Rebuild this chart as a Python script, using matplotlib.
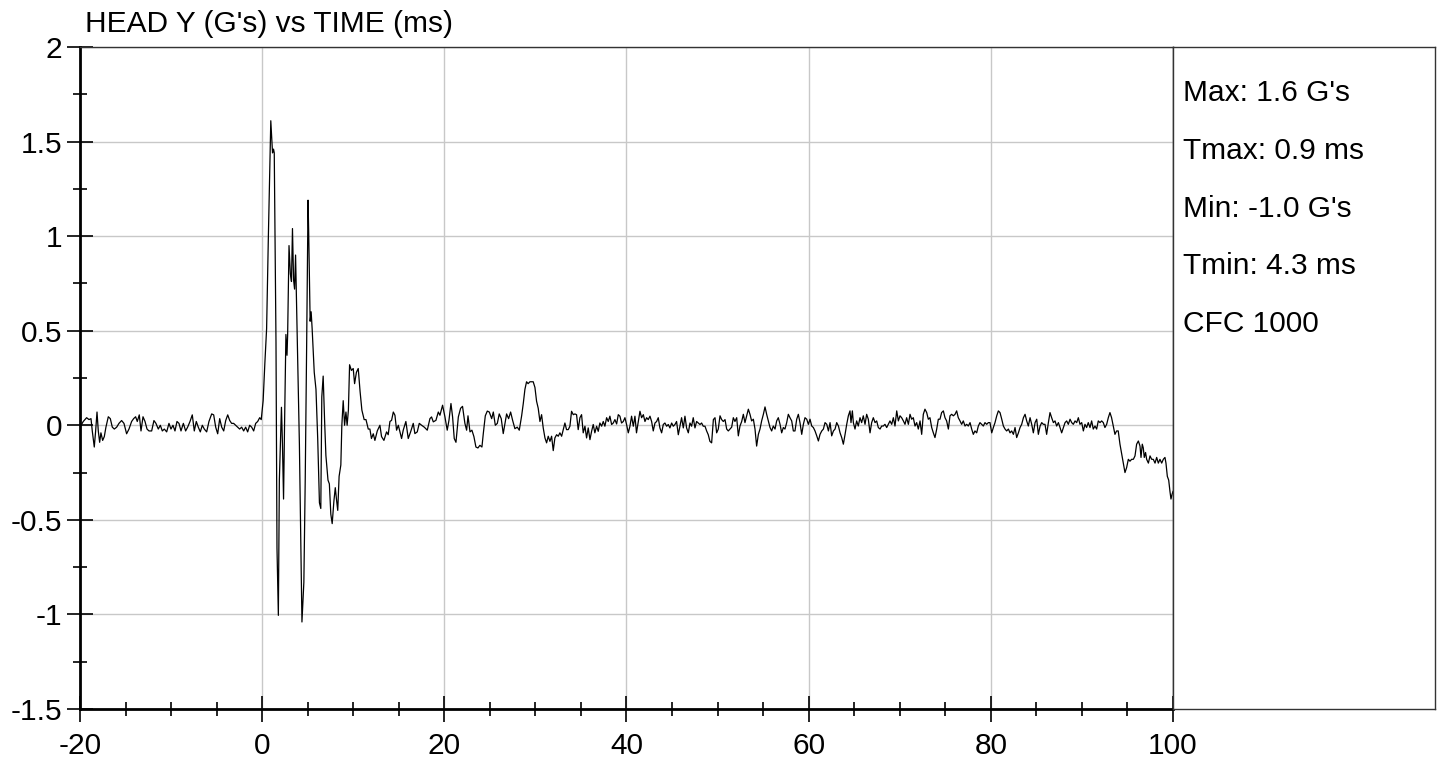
import matplotlib
matplotlib.use("Agg")
import matplotlib.pyplot as plt
from matplotlib.ticker import MultipleLocator

plt.rcParams['font.family'] = ['Liberation Sans', 'DejaVu Sans']

# head Y acceleration (ms, G's)
time_ms = [
    -20.0, -19.64, -19.27, -19.01, -18.79, -18.65, -18.43, -18.28, -18.13, -17.99,
    -17.84, -17.70, -17.51, -17.33, -17.15, -16.89, -16.67, -16.45, -16.23, -15.97,
    -15.72, -15.43, -15.17, -14.88, -14.62, -14.33, -14.11, -13.89, -13.71, -13.49,
    -13.30, -13.08, -12.86, -12.64, -12.42, -12.13, -11.88, -11.66, -11.40, -11.18,
    -10.96, -10.74, -10.48, -10.23, -10.01, -9.79, -9.57, -9.35, -9.13, -8.91,
    -8.65, -8.40, -8.18, -7.92, -7.67, -7.45, -7.23, -7.01, -6.79, -6.57,
    -6.35, -6.09, -5.84, -5.54, -5.32, -5.10, -4.88, -4.66, -4.44, -4.22,
    -4.00, -3.78, -3.56, -3.35, -3.13, -2.91, -2.69, -2.47, -2.25, -2.03,
    -1.81, -1.59, -1.37, -1.15, -0.93, -0.71, -0.49, -0.27, -0.10, 0.11,
    0.30, 0.49, 0.68, 0.95, 1.14, 1.25, 1.33, 1.52, 1.63, 1.78,
    1.89, 2.00, 2.12, 2.23, 2.35, 2.46, 2.61, 2.73, 2.80, 2.95,
    3.10, 3.22, 3.33, 3.45, 3.56, 3.67, 3.79, 3.90, 4.09, 4.28,
    4.37, 4.58, 4.73, 4.89, 5.04, 5.11, 5.27, 5.38, 5.49, 5.72,
    5.91, 6.10, 6.29, 6.44, 6.55, 6.70, 6.86, 7.00, 7.23, 7.38,
    7.54, 7.69, 7.88, 8.03, 8.18, 8.30, 8.45, 8.64, 8.75, 8.90,
    9.05, 9.20, 9.33, 9.47, 9.60, 9.80, 10.00, 10.15, 10.35, 10.55,
    10.75, 10.95, 11.20, 11.40, 11.65, 11.83, 12.00, 12.20, 12.38, 12.64,
    12.93, 13.11, 13.37, 13.66, 13.84, 14.03, 14.21, 14.40, 14.58, 14.76,
    14.95, 15.13, 15.31, 15.49, 15.78, 16.04, 16.30, 16.59, 16.77, 17.03,
    17.25, 17.51, 17.80, 18.13, 18.42, 18.60, 18.79, 19.08, 19.34, 19.52,
    19.81, 20.07, 20.32, 20.51, 20.73, 20.91, 21.09, 21.28, 21.54, 21.79,
    22.00, 22.26, 22.45, 22.60, 22.82, 23.03, 23.25, 23.47, 23.69, 23.91,
    24.13, 24.28, 24.50, 24.72, 24.94, 25.20, 25.38, 25.60, 25.82, 26.03,
    26.25, 26.47, 26.66, 26.84, 27.06, 27.28, 27.50, 27.75, 28.01, 28.23,
    28.49, 28.67, 28.85, 29.03, 29.20, 29.40, 29.58, 29.76, 29.95, 30.13,
    30.31, 30.50, 30.68, 30.86, 31.05, 31.23, 31.41, 31.60, 31.78, 31.96,
    32.14, 32.33, 32.51, 32.69, 32.88, 33.06, 33.24, 33.42, 33.61, 33.79,
    33.97, 34.16, 34.34, 34.52, 34.70, 34.89, 35.07, 35.25, 35.44, 35.62,
    35.80, 35.99, 36.17, 36.35, 36.53, 36.72, 36.90, 37.08, 37.27, 37.45,
    37.63, 37.82, 38.00, 38.18, 38.37, 38.55, 38.73, 38.92, 39.10, 39.28,
    39.46, 39.65, 39.83, 40.01, 40.20, 40.38, 40.56, 40.75, 40.93, 41.10,
    41.30, 41.48, 41.66, 41.85, 42.03, 42.21, 42.39, 42.58, 42.76, 42.94,
    43.13, 43.31, 43.49, 43.67, 43.86, 44.04, 44.22, 44.41, 44.59, 44.77,
    44.96, 45.14, 45.32, 45.50, 45.69, 45.87, 46.05, 46.24, 46.42, 46.60,
    46.79, 46.97, 47.15, 47.33, 47.52, 47.70, 47.88, 48.07, 48.25, 48.43,
    48.62, 48.80, 48.98, 49.16, 49.35, 49.54, 49.72, 49.90, 50.08, 50.27,
    50.45, 50.63, 50.82, 51.00, 51.18, 51.37, 51.55, 51.73, 51.91, 52.10,
    52.28, 52.46, 52.65, 52.83, 53.01, 53.20, 53.38, 53.56, 53.74, 53.93,
    54.11, 54.29, 54.48, 54.66, 54.84, 55.03, 55.21, 55.39, 55.58, 55.76,
    55.94, 56.12, 56.31, 56.49, 56.67, 56.86, 57.04, 57.22, 57.40, 57.59,
    57.77, 57.95, 58.14, 58.32, 58.50, 58.69, 58.87, 59.05, 59.24, 59.42,
    59.60, 59.79, 59.97, 60.15, 60.34, 60.52, 60.70, 60.89, 61.07, 61.25,
    61.44, 61.62, 61.80, 61.99, 62.17, 62.35, 62.53, 62.72, 62.90, 63.08,
    63.27, 63.45, 63.63, 63.81, 64.00, 64.18, 64.36, 64.54, 64.65, 64.80,
    64.91, 65.09, 65.27, 65.45, 65.64, 65.82, 66.00, 66.19, 66.37, 66.55,
    66.74, 66.92, 67.10, 67.29, 67.47, 67.65, 67.84, 68.02, 68.20, 68.38,
    68.57, 68.75, 68.93, 69.12, 69.30, 69.48, 69.67, 69.85, 70.03, 70.21,
    70.40, 70.58, 70.76, 70.95, 71.13, 71.31, 71.49, 71.68, 71.86, 72.04,
    72.23, 72.41, 72.59, 72.77, 72.96, 73.14, 73.32, 73.51, 73.69, 73.87,
    74.06, 74.24, 74.42, 74.60, 74.79, 74.97, 75.15, 75.34, 75.52, 75.70,
    75.89, 76.07, 76.25, 76.43, 76.62, 76.80, 76.98, 77.17, 77.35, 77.53,
    77.72, 77.90, 78.08, 78.26, 78.45, 78.63, 78.81, 79.00, 79.18, 79.36,
    79.55, 79.73, 79.91, 80.10, 80.28, 80.46, 80.65, 80.83, 81.01, 81.20,
    81.38, 81.56, 81.74, 81.93, 82.11, 82.29, 82.48, 82.66, 82.84, 83.03,
    83.21, 83.39, 83.58, 83.76, 83.94, 84.12, 84.31, 84.49, 84.67, 84.86,
    85.04, 85.22, 85.41, 85.59, 85.77, 85.95, 86.13, 86.32, 86.50, 86.68,
    86.87, 87.05, 87.23, 87.42, 87.60, 87.78, 87.97, 88.15, 88.33, 88.51,
    88.70, 88.88, 89.06, 89.25, 89.43, 89.61, 89.79, 89.98, 90.16, 90.34,
    90.52, 90.70, 90.89, 91.07, 91.25, 91.44, 91.62, 91.80, 91.99, 92.17,
    92.35, 92.53, 92.72, 92.90, 93.08, 93.26, 93.45, 93.63, 93.81, 93.99,
    94.18, 94.37, 94.55, 94.73, 94.91, 95.10, 95.28, 95.46, 95.65, 95.83,
    96.01, 96.20, 96.38, 96.49, 96.63, 96.74, 96.85, 96.99, 97.11, 97.30,
    97.48, 97.66, 97.84, 98.03, 98.21, 98.39, 98.57, 98.76, 98.94, 99.12,
    99.23, 99.38, 99.53, 99.67, 99.78, 99.90, 100.0,
]
head_y_g = [
    -0.01, 0.02, 0.04, 0.03, 0.035, -0.03, -0.115, -0.03, 0.07, -0.03,
    -0.09, -0.04, -0.08, -0.06, -0.01, 0.045, 0.035, -0.01, -0.02, -0.01,
    0.01, 0.025, 0.01, -0.045, -0.02, 0.02, 0.035, 0.045, 0.02, 0.055,
    -0.03, 0.045, 0.02, -0.02, -0.03, -0.03, 0.025, 0.01, -0.02, 0.0,
    -0.03, -0.02, -0.035, 0.01, -0.02, 0.0, -0.03, 0.02, 0.01, -0.03,
    0.01, -0.03, -0.01, 0.02, 0.055, -0.03, 0.02, -0.01, -0.035, 0.0,
    -0.02, -0.035, 0.02, 0.06, 0.055, -0.01, -0.045, 0.035, -0.01, -0.03,
    0.025, 0.055, 0.025, 0.01, 0.01, 0.0, -0.01, -0.02, -0.01, -0.03,
    -0.01, -0.035, 0.0, -0.01, -0.03, 0.01, 0.02, 0.04, 0.03, 0.13,
    0.33, 0.51, 0.99, 1.61, 1.44, 1.46, 1.44, 0.44, -0.65, -1.005,
    -0.29, -0.10, 0.095, -0.10, -0.39, 0.0, 0.48, 0.37, 0.48, 0.95,
    0.80, 0.76, 1.04, 0.77, 0.72, 0.90, 0.62, 0.35, -0.10, -0.74,
    -1.04, -0.83, -0.29, 0.44, 1.19, 1.02, 0.55, 0.60, 0.51, 0.28,
    0.19, -0.07, -0.41, -0.44, 0.15, 0.26, 0.02, -0.16, -0.29, -0.31,
    -0.47, -0.52, -0.40, -0.33, -0.40, -0.45, -0.27, -0.21, 0.0, 0.13,
    0.0, 0.07, 0.0, 0.08, 0.32, 0.29, 0.30, 0.22, 0.28, 0.30,
    0.18, 0.08, 0.03, 0.03, -0.02, -0.02, -0.07, -0.045, -0.08, -0.03,
    0.0, -0.06, -0.08, -0.035, -0.05, 0.02, 0.026, 0.07, 0.053, -0.026,
    0.0, -0.035, -0.07, -0.026, 0.02, -0.07, -0.035, 0.01, -0.044, -0.035,
    0.01, 0.0, -0.01, -0.026, 0.035, 0.044, 0.018, 0.026, 0.07, 0.053,
    0.106, 0.044, -0.026, 0.026, 0.115, 0.044, -0.07, -0.09, 0.044, 0.09,
    0.10, 0.01, -0.026, 0.05, -0.035, -0.026, -0.06, -0.115, -0.12, -0.106,
    -0.115, -0.044, 0.05, 0.075, 0.07, 0.035, 0.07, 0.0, 0.01, 0.06,
    0.035, -0.044, 0.01, 0.06, 0.035, 0.07, 0.026, -0.018, -0.01, -0.026,
    0.05, 0.115, 0.19, 0.23, 0.22, 0.23, 0.23, 0.23, 0.20, 0.127,
    0.09, 0.02, 0.056, -0.014, -0.067, -0.093, -0.058, -0.085, -0.058, -0.134,
    -0.067, -0.05, -0.058, -0.04, -0.058, -0.023, 0.012, -0.023, -0.023, -0.005,
    0.074, 0.056, 0.06, 0.056, -0.023, 0.04, 0.056, -0.04, -0.005, -0.067,
    -0.014, -0.076, -0.032, 0.004, -0.04, -0.005, -0.032, 0.012, -0.005, 0.02,
    -0.005, 0.04, 0.02, 0.048, 0.004, 0.012, 0.03, 0.007, 0.056, 0.048,
    0.012, 0.02, 0.04, 0.004, -0.04, -0.005, 0.048, -0.005, 0.048, -0.04,
    0.02, 0.074, 0.04, 0.056, 0.02, 0.04, 0.03, 0.048, 0.02, -0.03,
    0.012, 0.02, 0.04, -0.014, -0.04, 0.004, 0.012, -0.005, 0.004, -0.014,
    0.012, -0.005, 0.004, 0.02, -0.05, -0.005, 0.04, -0.014, 0.048, -0.014,
    -0.04, 0.012, -0.005, 0.04, -0.014, 0.02, 0.012, 0.004, 0.012, -0.005,
    -0.005, -0.03, -0.05, -0.085, -0.093, 0.03, 0.04, -0.04, -0.02, 0.05,
    0.03, 0.02, 0.03, -0.02, -0.03, -0.02, -0.01, 0.04, 0.02, 0.04,
    -0.056, -0.004, 0.02, 0.058, 0.014, 0.05, 0.085, 0.058, 0.023, 0.032,
    -0.02, -0.11, -0.048, -0.02, 0.023, 0.058, 0.097, 0.058, 0.023, -0.012,
    -0.03, -0.004, -0.02, 0.023, 0.04, 0.005, -0.04, -0.012, -0.02, 0.014,
    0.058, 0.04, 0.023, -0.03, -0.03, 0.032, 0.058, 0.014, -0.048, 0.005,
    0.04, 0.032, 0.005, 0.032, -0.004, -0.012, -0.03, -0.056, -0.083, -0.048,
    -0.03, -0.02, 0.014, 0.005, -0.03, 0.014, -0.056, -0.03, -0.02, 0.014,
    -0.004, -0.04, -0.065, -0.10, -0.048, 0.005, 0.05, 0.076, 0.014, 0.076,
    0.014, -0.02, 0.023, -0.004, 0.04, 0.014, 0.05, 0.005, 0.058, 0.032,
    -0.04, 0.014, 0.04, 0.014, 0.023, -0.012, -0.02, -0.004, -0.004, 0.005,
    -0.012, 0.005, 0.023, 0.005, 0.04, -0.004, 0.076, 0.023, 0.05, 0.04,
    0.023, 0.005, 0.04, 0.005, 0.058, 0.032, 0.04, -0.004, 0.014, -0.02,
    0.023, -0.048, 0.058, 0.085, 0.067, 0.032, 0.04, -0.012, -0.04, -0.065,
    -0.02, 0.032, 0.032, 0.067, 0.076, 0.04, 0.023, -0.02, 0.05, 0.058,
    0.05, 0.058, 0.076, 0.04, 0.023, 0.005, 0.023, -0.004, 0.005, -0.004,
    0.014, -0.02, -0.048, -0.03, -0.04, -0.004, 0.014, 0.005, -0.004, 0.014,
    0.005, 0.014, 0.014, -0.04, -0.012, 0.014, 0.05, 0.076, 0.067, 0.032,
    -0.004, -0.02, -0.03, -0.02, -0.04, -0.03, -0.048, -0.012, -0.065, -0.04,
    -0.012, 0.005, 0.04, 0.058, 0.023, -0.004, 0.04, 0.005, -0.04, 0.014,
    0.032, -0.048, -0.004, 0.014, 0.005, 0.005, -0.048, 0.014, 0.067, 0.04,
    0.014, 0.023, -0.004, 0.014, -0.012, -0.04, -0.012, 0.014, 0.023, 0.005,
    0.032, 0.014, 0.005, 0.023, 0.014, 0.04, 0.005, 0.014, -0.03, 0.005,
    -0.012, 0.014, -0.012, 0.023, -0.02, -0.004, -0.02, 0.023, 0.014, 0.023,
    0.014, -0.012, 0.005, 0.04, 0.067, 0.04, -0.004, -0.048, -0.03, -0.03,
    -0.10, -0.153, -0.20, -0.25, -0.224, -0.18, -0.19, -0.18, -0.18, -0.162,
    -0.10, -0.083, -0.11, -0.17, -0.10, -0.12, -0.17, -0.144, -0.18, -0.20,
    -0.162, -0.18, -0.18, -0.20, -0.17, -0.20, -0.18, -0.20, -0.18, -0.17,
    -0.20, -0.27, -0.29, -0.35, -0.39, -0.365, -0.35,
]

stats_lines = ["Max: 1.6 G's", "Tmax: 0.9 ms", "Min: -1.0 G's", "Tmin: 4.3 ms", "CFC 1000"]

fig = plt.figure(figsize=(14.41, 7.59), dpi=100)
ax = fig.add_axes([0.0555, 0.0659, 0.7585, 0.8722])

ax.plot(time_ms, head_y_g, color='black', linewidth=0.9)

ax.set_xlim(-20, 100)
ax.set_ylim(-1.5, 2)
ax.xaxis.set_major_locator(MultipleLocator(20))
ax.xaxis.set_minor_locator(MultipleLocator(5))
ax.yaxis.set_major_locator(MultipleLocator(0.5))
ax.yaxis.set_minor_locator(MultipleLocator(0.25))
ax.yaxis.set_major_formatter(plt.FuncFormatter(lambda v, p: f'{v:g}'))
ax.xaxis.set_major_formatter(plt.FuncFormatter(lambda v, p: f'{v:g}'))

ax.grid(True, which='major', color='#c8c8c8', linewidth=1.0)
ax.tick_params(which='major', direction='inout', length=19, width=1.2, labelsize=21.5)
ax.tick_params(axis='y', which='major', pad=3)
ax.tick_params(axis='x', which='major', pad=7)
ax.tick_params(which='minor', direction='inout', length=10, width=1.2)
ax.tick_params(top=False, right=False, which='both')

for side in ('left', 'bottom'):
    ax.spines[side].set_linewidth(2.0)
for side in ('top', 'right'):
    ax.spines[side].set_linewidth(1.0)
    ax.spines[side].set_color('#333333')

fig.text(0.059, 0.968, "HEAD Y (G's) vs TIME (ms)", fontsize=21.5, ha='left', va='center')

# stats box on the right
box = fig.add_axes([0.814, 0.0659, 0.1815, 0.8722])
box.set_xticks([])
box.set_yticks([])
for sp in box.spines.values():
    sp.set_linewidth(1.0)
    sp.set_color('#333333')
for i, line in enumerate(stats_lines):
    box.text(0.04, 0.93 - i * 0.087, line, fontsize=21.5, ha='left', va='center',
             transform=box.transAxes)

fig.savefig('out.png', dpi=100)
